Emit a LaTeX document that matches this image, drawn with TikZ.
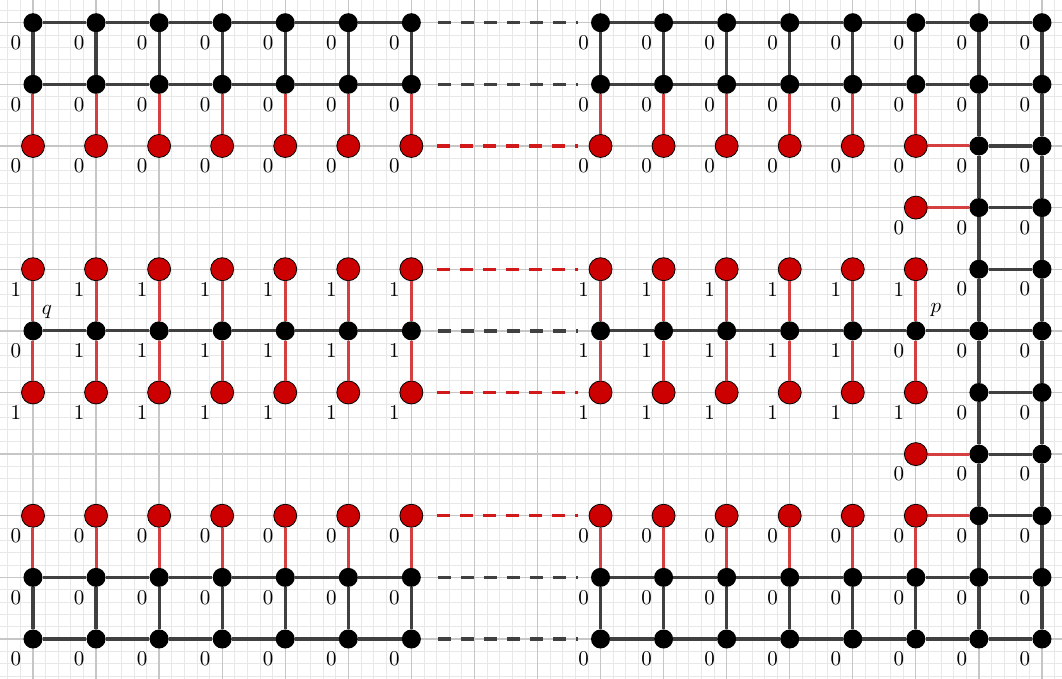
\documentclass[tikz,border=0pt]{standalone}
\usetikzlibrary{calc}
\definecolor{rednode}{HTML}{CC0000}
\definecolor{edgered}{HTML}{D44040}
\definecolor{edgegray}{HTML}{404040}
\definecolor{gmajor}{HTML}{C6C6C6}
\definecolor{gminor}{HTML}{E8E8E8}
\newcommand\bigtxt[1]{\scalebox{2.1}{#1}}
\tikzset{
  bn/.style={circle,fill=black,inner sep=0pt,minimum size=19pt},
  rn/.style={circle,fill=rednode,draw=black,line width=0.8pt,inner sep=0pt,minimum size=23pt},
  be/.style={draw=edgegray,line width=3.2pt},
  re/.style={draw=edgered,line width=3pt},
  bdash/.style={draw=edgegray,line width=3.4pt,dash pattern=on 13pt off 10pt,shorten <=17pt,shorten >=13pt},
  rdash/.style={draw=rednode!90!white,line width=3.4pt,dash pattern=on 13pt off 10pt,shorten <=14pt,shorten >=11pt},
  lb/.style={inner sep=0pt,xshift=-17pt,yshift=-20pt},
  pq/.style={inner sep=0pt}
}
\newcommand\BN[3]{\node[bn,label={[lb]center:\bigtxt{#3}}] (n#1-#2) at (#1,#2) {};}
\newcommand\RN[3]{\node[rn,label={[lb]center:\bigtxt{#3}}] (n#1-#2) at (#1,#2) {};}
\begin{document}
\begin{tikzpicture}[x=63.06pt,y=-61.63pt]
\useasboundingbox (-0.5233,-0.3683) rectangle (16.318,10.649);
\fill[white] (-0.5233,-0.3683) rectangle (16.318,10.649);
% grid
\foreach \k in {-2,...,81} \draw[gminor,line width=0.7pt] (\k*0.2,-0.3683) -- (\k*0.2,10.649);
\foreach \k in {-1,...,53} \draw[gminor,line width=0.7pt] (-0.5233,\k*0.2) -- (16.318,\k*0.2);
\foreach \k in {0,...,16} \draw[gmajor,line width=1.3pt] (\k,-0.3683) -- (\k,10.649);
\foreach \k in {0,...,10} \draw[gmajor,line width=1.3pt] (-0.5233,\k) -- (16.318,\k);
% nodes
\foreach \j in {0,1,9,10} {
  \foreach \i in {0,1,2,3,4,5,6,9,10,11,12,13,14,15,16} {\BN{\i}{\j}{0}}
}
\foreach \j in {2,8} {
  \foreach \i in {0,1,2,3,4,5,6,9,10,11,12,13,14} {\RN{\i}{\j}{0}}
  \BN{15}{\j}{0}\BN{16}{\j}{0}
}
\foreach \j in {4,6} {
  \foreach \i in {0,1,2,3,4,5,6,9,10,11,12,13,14} {\RN{\i}{\j}{1}}
  \BN{15}{\j}{0}\BN{16}{\j}{0}
}
\foreach \j in {3,7} {
  \RN{14}{\j}{0}\BN{15}{\j}{0}\BN{16}{\j}{0}
}
\BN{0}{5}{0}
\foreach \i in {1,2,3,4,5,6,9,10,11,12,13} {\BN{\i}{5}{1}}
\BN{14}{5}{0}\BN{15}{5}{0}\BN{16}{5}{0}
\node[pq] (qlab) at ($(n0-5)+(14pt,19pt)$) {\bigtxt{$q$}};
\node[pq] (plab) at ($(n14-5)+(20pt,21pt)$) {\bigtxt{$p$}};
% horizontal black edges
\foreach \j in {0,1,5,9,10} {
  \foreach \a/\b in {0/1,1/2,2/3,3/4,4/5,5/6,9/10,10/11,11/12,12/13,13/14,14/15,15/16}
    \draw[be] (n\a-\j) -- (n\b-\j);
  \draw[bdash] (n6-\j) -- (n9-\j);
}
\foreach \j in {2,3,4,6,7,8} \draw[be] (n15-\j) -- (n16-\j);
\foreach \j in {2,3,7,8} \draw[re] (n14-\j) -- (n15-\j);
\foreach \j in {2,4,6,8} \draw[rdash] (n6-\j) -- (n9-\j);
% vertical black edges
\foreach \i in {0,1,2,3,4,5,6,9,10,11,12,13,14,15,16} {
  \draw[be] (n\i-0) -- (n\i-1);
  \draw[be] (n\i-9) -- (n\i-10);
}
\foreach \i in {15,16} {
  \foreach \a/\b in {1/2,2/3,3/4,4/5,5/6,6/7,7/8,8/9} \draw[be] (n\i-\a) -- (n\i-\b);
}
% vertical red edges
\foreach \i in {0,1,2,3,4,5,6,9,10,11,12,13,14} {
  \foreach \a/\b in {1/2,4/5,5/6,8/9} \draw[re] (n\i-\a) -- (n\i-\b);
}
\end{tikzpicture}
\end{document}
